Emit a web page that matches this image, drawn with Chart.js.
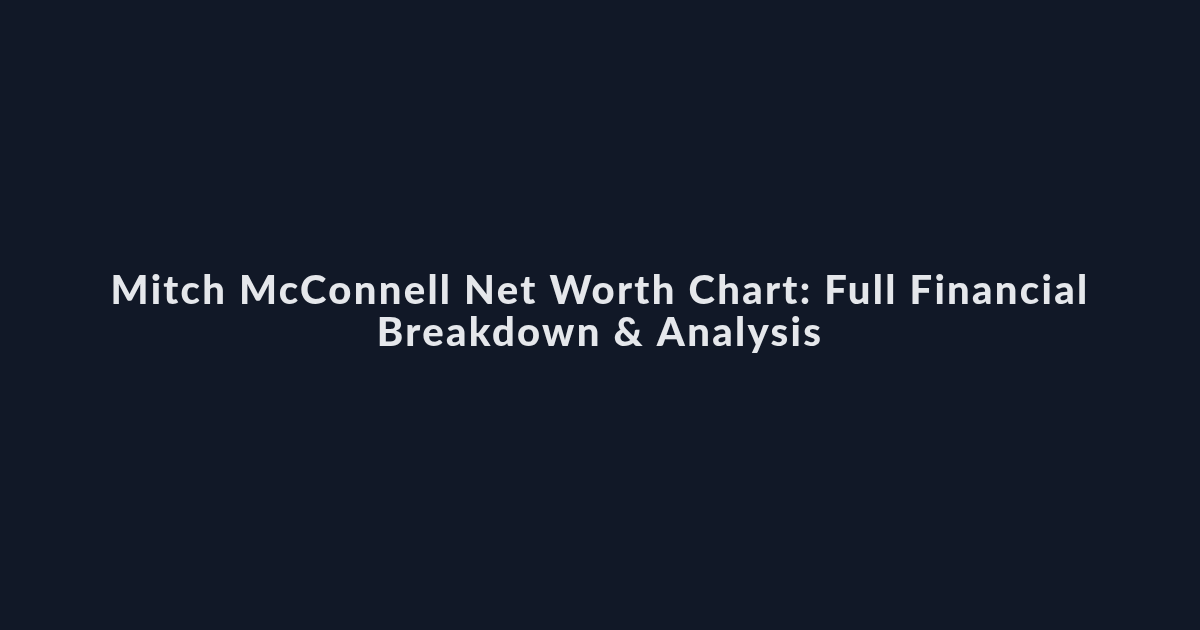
<!DOCTYPE html>
<html>
<head>
<meta charset="utf-8">
<script src="https://cdn.jsdelivr.net/npm/chart.js@4"></script>
<style>
  html, body { margin: 0; padding: 0; background: #111827; }
  #wrap { width: 1200px; height: 630px; }
</style>
</head>
<body>
<div id="wrap"><canvas id="myChart"></canvas></div>
<script>
// the reference only shows a title card, no marks
const titleLines = ["Mitch McConnell Net Worth Chart: Full Financial", "Breakdown & Analysis"];
const categories = [];
const values = [];

// wider tracking, the original font is a spaced-out geometric one
const spacing = {
    id: 'spacing',
    beforeDraw(chart) {
        chart.ctx.letterSpacing = '2.3px';
    }
};

const ctx = document.getElementById('myChart');
new Chart(ctx, {
    type: 'bar',
    data: {
        labels: categories,
        datasets: [{ data: values, backgroundColor: '#e5e7eb' }]
    },
    options: {
        responsive: true,
        maintainAspectRatio: false,
        animation: false,
        layout: { padding: 0 },
        scales: {
            x: { display: false },
            y: { display: false }
        },
        plugins: {
            legend: { display: false },
            tooltip: { enabled: false },
            title: {
                display: true,
                text: titleLines,
                color: '#e5e7eb',
                font: { family: 'Lato', weight: 900, size: 40, lineHeight: 1.05 },
                padding: { top: 270, bottom: 0 }
            }
        }
    },
    plugins: [spacing]
});
</script>
</body>
</html>
